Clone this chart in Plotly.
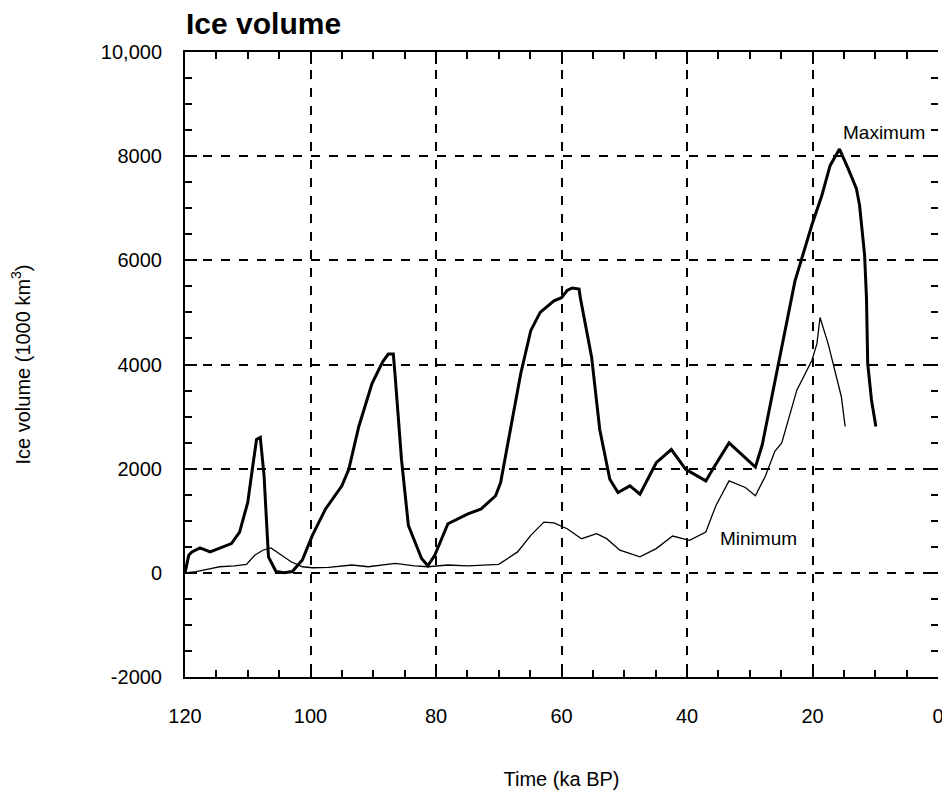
import plotly.graph_objects as go

# Maximum scenario (time in ka BP, ice volume in 1000 km^3)
max_time = [120, 119.4, 118.9, 117.6, 116.0, 113.9, 112.6, 111.3, 110.0, 109.2, 108.6, 108.0,
            107.4, 106.7, 105.5, 104.2, 102.9, 101.3, 99.7, 97.6, 95.0, 93.9, 92.3, 90.2, 88.5,
            87.6, 86.8, 86.5, 85.5, 84.4, 82.3, 81.3, 80.2, 78.1, 74.9, 72.8, 70.5, 69.7, 68.1,
            66.5, 64.9, 63.4, 61.2, 60.0, 59.1, 58.3, 57.2, 57.0, 55.2, 53.9, 52.3, 51.0, 49.1,
            47.5, 44.9, 42.5, 40.2, 37.0, 35.9, 33.3, 30.7, 29.1, 28.0, 25.4, 22.8, 20.1, 18.5,
            17.2, 15.7, 14.3, 13.0, 12.5, 11.7, 11.4, 11.2, 10.6, 9.9]
max_vol = [0, 340, 400, 478, 402, 504, 561, 783, 1352, 2050, 2560, 2600,
           1860, 306, 25, 0, 25, 245, 720, 1227, 1670, 1987, 2810, 3635, 4050,
           4200, 4200, 3762, 2178, 910, 275, 135, 338, 942, 1132, 1227, 1480, 1733, 2747,
           3823, 4650, 5000, 5221, 5283, 5420, 5470, 5450, 5283, 4142, 2747, 1797, 1543, 1670,
           1512, 2114, 2367, 1987, 1765, 1987, 2494, 2209, 2030, 2463, 4015, 5600, 6678, 7249,
           7818, 8136, 7756, 7375, 7058, 6107, 5283, 4015, 3318, 2810]

# Minimum scenario
min_time = [120, 118.2, 116.3, 114.5, 112.1, 110.2, 108.9, 107.6, 106.3, 105.0, 103.1, 101.3,
            99.7, 97.1, 93.4, 90.8, 86.5, 83.4, 81.3, 78.1, 74.9, 70.0, 67.0, 64.9, 62.8, 61.2,
            59.1, 56.8, 54.4, 52.8, 50.7, 47.5, 44.9, 42.3, 39.6, 37.0, 35.4, 33.3, 30.7, 29.1,
            27.5, 26.0, 24.9, 22.5, 21.2, 20.1, 19.3, 18.8, 17.5, 15.4, 14.8]
min_vol = [0, 25, 72, 117, 135, 162, 338, 434, 478, 370, 212, 117,
           98, 105, 150, 117, 180, 135, 117, 150, 135, 162, 402, 719, 973, 960,
           846, 656, 751, 656, 434, 306, 465, 706, 624, 783, 1290, 1765, 1638, 1480,
           1860, 2335, 2494, 3508, 3825, 4078, 4395, 4903, 4395, 3381, 2810]

y_tickvals = [-2000, 0, 2000, 4000, 6000, 8000, 10000]
y_ticktext = ["-2000", "0", "2000", "4000", "6000", "8000", "10,000"]
x_tickvals = [120, 100, 80, 60, 40, 20, 0]

FONT = "Liberation Sans, Arial, Helvetica, sans-serif"
W, H = 942, 785

fig = go.Figure()
fig.add_trace(go.Scatter(x=max_time, y=max_vol, mode="lines",
                         line=dict(color="black", width=3), name="Maximum",
                         showlegend=False))
fig.add_trace(go.Scatter(x=min_time, y=min_vol, mode="lines",
                         line=dict(color="black", width=1.3), name="Minimum",
                         showlegend=False))
# invisible trace carrying the right-hand tick axis
fig.add_trace(go.Scatter(x=[120], y=[0], mode="markers", yaxis="y2",
                         marker=dict(opacity=0), showlegend=False, hoverinfo="skip"))

fig.add_annotation(x=8.6, y=8460, text="Maximum", showarrow=False,
                   font=dict(size=19, color="black", family=FONT))
fig.add_annotation(x=28.6, y=662, text="Minimum", showarrow=False,
                   font=dict(size=19, color="black", family=FONT))

grid_common = dict(showgrid=True, gridcolor="black", gridwidth=1.5, griddash="dash",
                   zeroline=False)

fig.update_layout(
    width=W, height=H,
    margin=dict(l=177, r=6, t=44, b=110),
    plot_bgcolor="white", paper_bgcolor="white",
    title=dict(text="<b>Ice volume</b>", x=178/W, xanchor="left",
               y=1 - 15/H, yanchor="middle",
               font=dict(size=30, color="black", family=FONT)),
    xaxis=dict(
        range=[120, 0], tickvals=x_tickvals,
        showline=True, linecolor="black", linewidth=2, mirror="ticks",
        ticks="inside", ticklen=12, tickwidth=2, tickcolor="black",
        minor=dict(ticks="inside", dtick=5, tick0=0, ticklen=7, tickwidth=1.5,
                   tickcolor="black", showgrid=False),
        tickfont=dict(size=20, color="black", family=FONT),
        ticklabelstandoff=20, ticklabeloverflow="allow",
        title=dict(text="Time (ka BP)", font=dict(size=20, color="black", family=FONT),
                   standoff=46),
        **grid_common,
    ),
    yaxis=dict(
        range=[-2000, 10000], tickvals=y_tickvals, ticktext=y_ticktext,
        showline=True, linecolor="black", linewidth=2, mirror=False,
        ticks="inside", ticklen=12, tickwidth=2, tickcolor="black",
        minor=dict(ticks="inside", dtick=500, tick0=0, ticklen=7, tickwidth=1.5,
                   tickcolor="black", showgrid=False),
        tickfont=dict(size=20, color="black", family=FONT),
        ticklabelstandoff=17,
        title=dict(text="Ice volume (1000 km<sup>3</sup>)",
                   font=dict(size=20, color="black", family=FONT), standoff=65),
        **grid_common,
    ),
    yaxis2=dict(
        overlaying="y", side="right", range=[-2000, 10000], tickvals=y_tickvals,
        showline=False, showgrid=False, zeroline=False, showticklabels=False,
        ticks="inside", ticklen=12, tickwidth=2, tickcolor="black",
        minor=dict(ticks="inside", dtick=500, tick0=0, ticklen=7, tickwidth=1.5,
                   tickcolor="black", showgrid=False),
    ),
)

fig.write_html("out.html")
